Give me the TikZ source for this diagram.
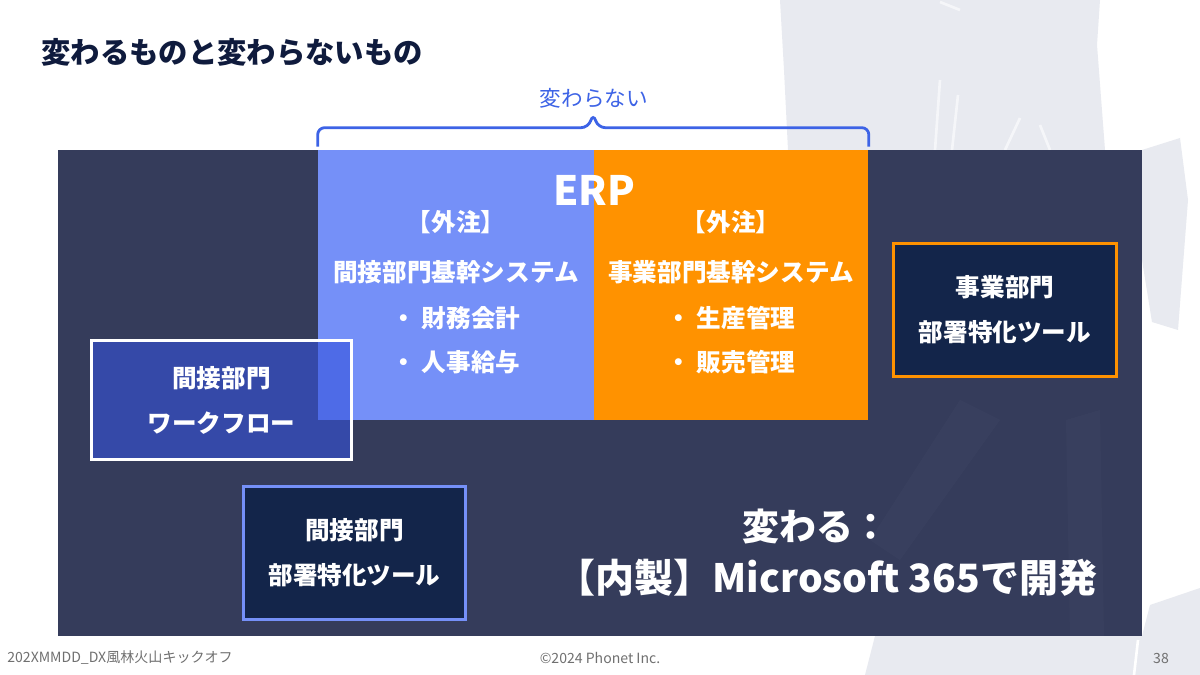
\documentclass[tikz,border=0pt]{standalone}
\usepackage{fontspec}
\setmainfont{Noto Sans CJK JP}
\usetikzlibrary{positioning}

\definecolor{titlenavy}{HTML}{0F1B3D}
\definecolor{stagenavy}{HTML}{353C5B}
\definecolor{erpblue}{HTML}{7590F8}
\definecolor{erporange}{HTML}{FF9200}
\definecolor{toolnavy}{HTML}{13254A}
\definecolor{wfblue}{HTML}{3553DC}
\definecolor{bracecol}{HTML}{3D63E6}
\definecolor{inkgray}{HTML}{E8EAF0}
\definecolor{footgray}{HTML}{707070}

\begin{document}
\begin{tikzpicture}[
    x=0.02cm, y=-0.02cm,
    stage/.style={fill=stagenavy, inner sep=0pt,
        minimum width=21.68cm, minimum height=9.72cm},
    erpbox/.style={inner sep=0pt, minimum width=5.5cm, minimum height=5.4cm},
    coltext/.style={text=white, inner sep=0pt,
        font=\fontsize{14}{17}\selectfont\bfseries},
    toolbox/.style={draw, line width=1.7pt, fill=toolnavy, text=white,
        align=center, font=\fontsize{14}{25.6}\selectfont\bfseries,
        minimum width=4.46cm, minimum height=2.68cm},
    bigtext/.style={text=white, inner sep=0pt, font=\bfseries},
    brace/.style={draw=bracecol, line width=1.6pt, rounded corners=4},
    foot/.style={text=footgray, inner sep=0pt, font=\fontsize{8}{10}\selectfont},
]

% === Canvas ===
\fill[white] (0,0) rectangle (1200,675);
\useasboundingbox (0,0) rectangle (1200,675);

% === Brush character in the background ===
\fill[inkgray] (780,0) -- (1100,0) -- (1097,45) -- (1105,150) -- (788,150)
    -- (784,70) -- cycle;
\draw[white, line width=1.5pt, opacity=0.6] (935,150) -- (940,80) (952,150) -- (958,95)
    (1005,150) -- (1020,118) (1050,150) -- (1040,125) (940,2) -- (960,10);
\fill[inkgray] (1142,150) -- (1180,138) -- (1188,200) -- (1178,330)
    -- (1152,322) -- (1142,260) -- cycle;
\fill[inkgray] (875,636) -- (1142,636) -- (1150,605) -- (1200,588)
    -- (1200,675) -- (865,675) -- cycle;
\draw[white, line width=1.5pt] (1134,675) -- (1138,640);

% === Stage ===
\node[stage] (stage) at (600,393) {};
\fill[white, opacity=0.018] (1066,420) -- (1100,410) -- (1104,636) -- (1070,636) -- cycle;
\fill[white, opacity=0.018] (960,400) -- (1000,420) -- (900,560) -- (870,540) -- cycle;

% === ERP: stays the same ===
\node[erpbox, fill=erpblue, minimum width=5.54cm] (kansetsu) at (456.5,285) {};
\node[erpbox, fill=erporange] (jigyo) at (731,285) {};
\node[text=white, inner sep=0pt, font=\fontsize{23}{26}\selectfont\bfseries]
    (erp) at (594,190) {ERP};

\node[coltext] (kgaichu) at (456,222) {【外注】};
\node[coltext] (kkikan) at (456,272) {間接部門基幹システム};
\node[coltext] (kzaimu) at (456,318) {・ 財務会計};
\node[coltext] (kjinji) at (456,362) {・ 人事給与};

\node[coltext] (jgaichu) at (731,222) {【外注】};
\node[coltext] (jkikan) at (731,272) {事業部門基幹システム};
\node[coltext] (jseisan) at (731,318) {・ 生産管理};
\node[coltext] (jhanbai) at (731,362) {・ 販売管理};

% === Tools that change ===
\node[toolbox, draw=white, fill=wfblue, fill opacity=0.6, text opacity=1,
    minimum width=5.22cm, minimum height=2.4cm]
    (workflow) at (221.5,400) {間接部門\\ワークフロー};
\node[toolbox, draw=erpblue] (ktool) at (354.5,553) {間接部門\\部署特化ツール};
\node[toolbox, draw=erporange] (jtool) at (1005,310) {事業部門\\部署特化ツール};

\node[bigtext, font=\fontsize{21}{24}\selectfont\bfseries]
    (kawaru) at (816,527) {変わる：};
\node[bigtext, font=\fontsize{22.2}{26}\selectfont\bfseries]
    (naisei) at (827,578) {【内製】Microsoft 365で開発};

% === Brace over ERP ===
\draw[brace] ([shift={(0,-3)}]kansetsu.north west)
    |- ([shift={(-5,-22)}]jigyo.north west)
    -- ([shift={(0,-36)}]jigyo.north west)
    -- ([shift={(5,-22)}]jigyo.north west)
    -| ([shift={(0,-3)}]jigyo.north east);
\node[text=bracecol, inner sep=0pt, font=\fontsize{12.3}{15}\selectfont]
    (kawaranai) at (594,98) {変わらない};

% === Title and footer ===
\node[anchor=west, text=titlenavy, inner sep=0pt,
    font=\fontsize{16.7}{20}\selectfont\bfseries]
    (title) at (41,52) {変わるものと変わらないもの};
\node[foot, anchor=west] (event) at (7,658) {202XMMDD\_DX風林火山キックオフ};
\node[foot] (copy) at (600,658) {©2024 Phonet Inc.};
\node[foot] (page) at (1161,658) {38};

\end{tikzpicture}
\end{document}
